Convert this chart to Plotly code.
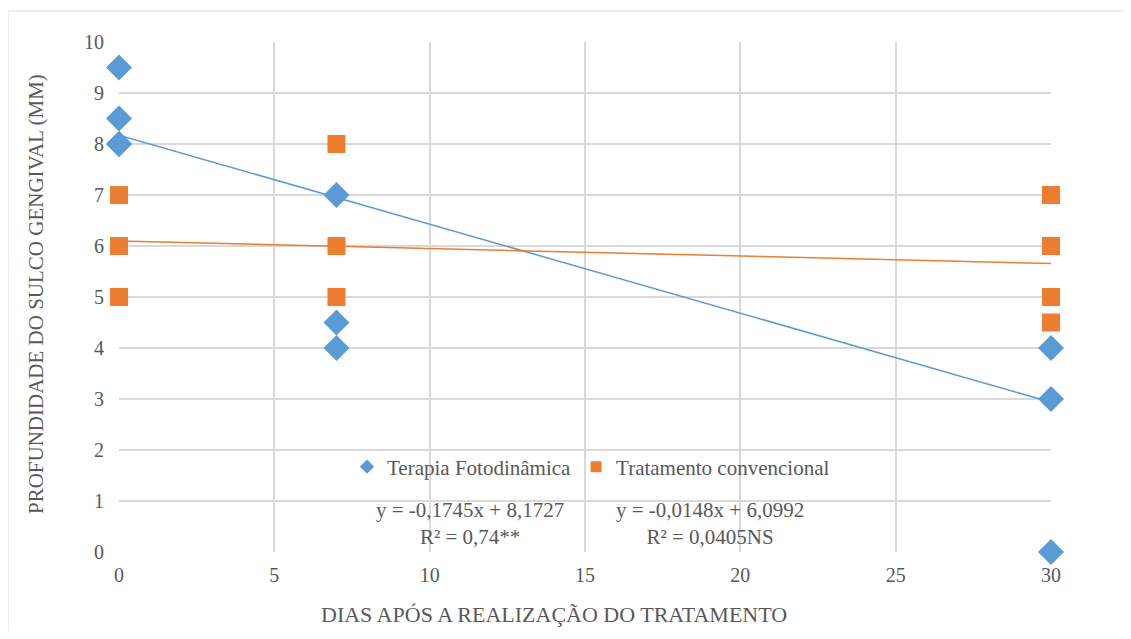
import plotly.graph_objects as go

# Data
pdt_x = [0, 0, 0, 0, 7, 7, 7, 30, 30, 30]
pdt_y = [9.5, 8.5, 8, 8, 7, 4.5, 4, 4, 3, 0]
conv_x = [0, 0, 0, 7, 7, 7, 30, 30, 30, 30]
conv_y = [7, 6, 5, 8, 6, 5, 7, 6, 5, 4.5]
pdt_slope, pdt_intercept = -0.1745, 8.1727
conv_slope, conv_intercept = -0.0148, 6.0992
trend_x = [0, 30]
x_ticks = [0, 5, 10, 15, 20, 25, 30]
y_ticks = [0, 1, 2, 3, 4, 5, 6, 7, 8, 9, 10]

BLUE = "#5B9BD5"
ORANGE = "#ED7D31"
GRAY = "#595959"
GRID = "#D9D9D9"
FONT = "Liberation Serif"

# page has an 8px body margin; figure sized to fit window
W, H = 1115, 623
L, T = 111, 34
PW, PH = 932, 510


def px(xp):
    return (xp - 8 - L) / PW


def py(yp):
    return 1 - (yp - 8 - T) / PH


fig = go.Figure()

fig.add_trace(go.Scatter(
    x=trend_x, y=[pdt_intercept + pdt_slope * v for v in trend_x],
    mode="lines", line=dict(color=BLUE, width=1.5), showlegend=False, hoverinfo="skip"))
fig.add_trace(go.Scatter(
    x=trend_x, y=[conv_intercept + conv_slope * v for v in trend_x],
    mode="lines", line=dict(color=ORANGE, width=1.5), showlegend=False, hoverinfo="skip"))

fig.add_trace(go.Scatter(
    x=pdt_x, y=pdt_y, mode="markers", name="Terapia Fotodinâmica", showlegend=False,
    marker=dict(symbol="diamond", size=20, color=BLUE)))
fig.add_trace(go.Scatter(
    x=conv_x, y=conv_y, mode="markers", name="Tratamento convencional", showlegend=False,
    marker=dict(symbol="square", size=18, color=ORANGE)))

# legend entries with small symbols
fig.add_trace(go.Scatter(
    x=[None], y=[None], mode="markers", name="Terapia Fotodinâmica",
    marker=dict(symbol="diamond", size=11, color=BLUE)))
fig.add_trace(go.Scatter(
    x=[None], y=[None], mode="markers", name="Tratamento convencional",
    marker=dict(symbol="square", size=11, color=ORANGE)))

fig.add_annotation(
    x=px(470), y=py(523.5), xref="paper", yref="paper",
    text="y = -0,1745x + 8,1727<br>R² = 0,74**", showarrow=False,
    font=dict(family=FONT, size=21, color=GRAY), align="center",
    xanchor="center", yanchor="middle")
fig.add_annotation(
    x=px(710), y=py(523.5), xref="paper", yref="paper",
    text="y = -0,0148x + 6,0992<br>R² = 0,0405NS", showarrow=False,
    font=dict(family=FONT, size=21, color=GRAY), align="center",
    xanchor="center", yanchor="middle")

# axis titles
fig.add_annotation(
    x=px(554), y=py(614), xref="paper", yref="paper",
    text="DIAS APÓS A REALIZAÇÃO DO TRATAMENTO", showarrow=False,
    font=dict(family=FONT, size=22, color=GRAY), xanchor="center", yanchor="middle")
fig.add_annotation(
    x=px(36), y=py(294), xref="paper", yref="paper",
    text="PROFUNDIDADE DO SULCO GENGIVAL (MM)", showarrow=False, textangle=-90,
    font=dict(family=FONT, size=21, color=GRAY), xanchor="center", yanchor="middle")

fig.add_shape(type="rect", xref="paper", yref="paper",
              x0=px(8), x1=px(1200), y0=py(700), y1=py(11),
              line=dict(color=GRID, width=1), fillcolor="rgba(0,0,0,0)", layer="below")

fig.update_layout(
    width=W, height=H,
    margin=dict(l=L, r=W - L - PW, t=T, b=H - T - PH),
    paper_bgcolor="white", plot_bgcolor="white",
    font=dict(family=FONT, color=GRAY, size=20),
    legend=dict(orientation="h", x=px(591), xanchor="center", y=py(467), yanchor="middle",
                font=dict(family=FONT, size=21, color=GRAY), bgcolor="rgba(0,0,0,0)",
                itemsizing="trace", tracegroupgap=0, itemwidth=30),
    xaxis=dict(range=[0, 30], tickvals=x_ticks, showgrid=True, gridcolor=GRID, gridwidth=1.5,
               zeroline=False, showline=False, ticks="", ticklabelstandoff=9,
               tickfont=dict(family=FONT, size=20, color=GRAY)),
    yaxis=dict(range=[0, 10], tickvals=y_ticks, showgrid=True, gridcolor=GRID, gridwidth=1.5,
               zeroline=False, showline=False, ticks="", ticklabelstandoff=14,
               tickfont=dict(family=FONT, size=20, color=GRAY)),
)
fig.update_traces(cliponaxis=False)

fig.write_html("out.html")
